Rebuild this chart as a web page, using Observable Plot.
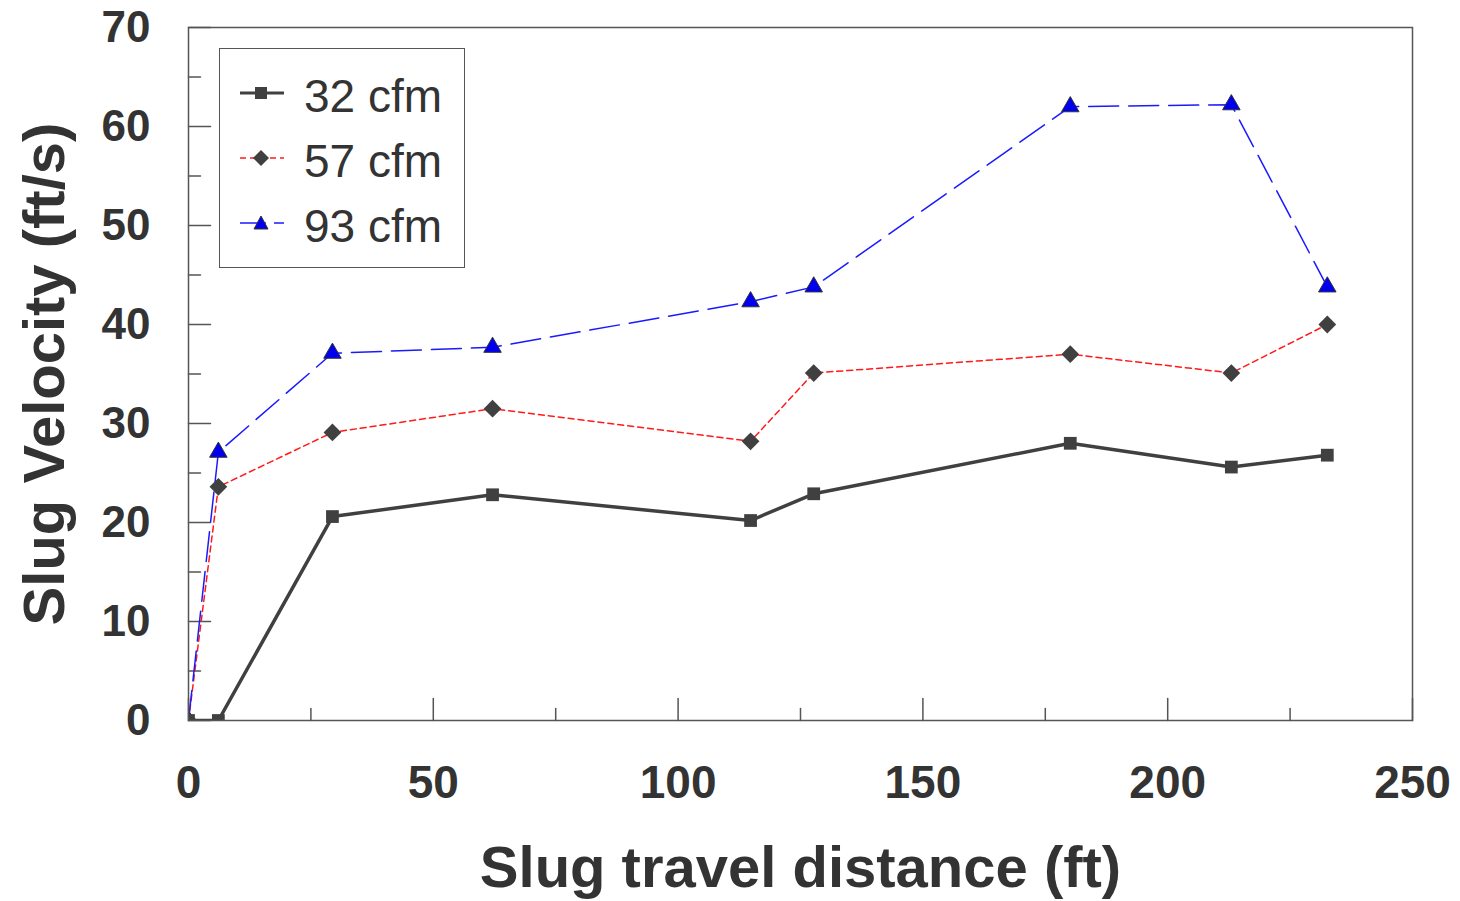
<!DOCTYPE html>
<html>
<head>
<meta charset="utf-8">
<script src="https://cdn.jsdelivr.net/npm/d3@7"></script>
<script src="https://cdn.jsdelivr.net/npm/@observablehq/plot@0.6"></script>
<style>
  body { margin: 0; background: #fff; }
  #wrap { position: relative; width: 1460px; height: 901px; font-family: "Liberation Sans", Arial, sans-serif; }
  #legend { position: absolute; left: 219px; top: 48px; width: 244px; height: 218px; border: 1.5px solid #555; background: #fff; }
  .row { position: absolute; left: 20px; height: 50px; display: flex; align-items: center; }
  .row span { font-size: 46px; color: #333; margin-left: 20px; position: relative; top: 3px; }
</style>
</head>
<body>
<div id="wrap"></div>
<script>
const distance = [0, 6.1, 29.4, 62.1, 114.8, 127.7, 180.1, 213.0, 232.6];
const v32 = [0, 0, 20.6, 22.8, 20.2, 22.9, 28.0, 25.6, 26.8];
const v57 = [0, 23.6, 29.1, 31.5, 28.2, 35.1, 37.0, 35.1, 40.0];
const v93 = [0, 27.1, 37.1, 37.7, 42.3, 43.8, 62.0, 62.2, 43.8];
const seriesNames = ["32 cfm", "57 cfm", "93 cfm"];
const yMajor = [0, 10, 20, 30, 40, 50, 60, 70];
const yMinor = [5, 15, 25, 35, 45, 55, 65];
const xMajor = [0, 50, 100, 150, 200, 250];
const xMinor = [25, 75, 125, 175, 225];

const rows = (vals) => distance.map((x, i) => ({x, y: vals[i]}));
const r32 = rows(v32), r57 = rows(v57), r93 = rows(v93);

const tickShape = { draw(ctx, l) { ctx.moveTo(0, 0); ctx.lineTo(0, -l); } };
const textColor = "#333";
const font = "Liberation Sans, Arial, sans-serif";

const chart = Plot.plot({
  width: 1460,
  height: 901,
  marginLeft: 188,
  marginRight: 48,
  marginTop: 27,
  marginBottom: 181,
  style: { fontFamily: font, background: "white" },
  x: { domain: [0, 250] },
  y: { domain: [0, 70] },
  marks: [
    Plot.axisY(yMajor, { tickSize: 0, tickPadding: 38, fontSize: 44, fontWeight: "bold", fill: textColor, label: null }),
    Plot.axisX(xMajor, { tickSize: 0, tickPadding: 45, fontSize: 46, fontWeight: "bold", fill: textColor, label: null }),
    Plot.vector(yMajor, { y: d => d, frameAnchor: "left", rotate: 90, length: 22, anchor: "start", shape: tickShape, stroke: "#555", strokeWidth: 1.5 }),
    Plot.vector(yMinor, { y: d => d, frameAnchor: "left", rotate: 90, length: 12, anchor: "start", shape: tickShape, stroke: "#555", strokeWidth: 1.5 }),
    Plot.vector(xMajor, { x: d => d, frameAnchor: "bottom", rotate: 0, length: 22, anchor: "start", shape: tickShape, stroke: "#555", strokeWidth: 1.5 }),
    Plot.vector(xMinor, { x: d => d, frameAnchor: "bottom", rotate: 0, length: 12, anchor: "start", shape: tickShape, stroke: "#555", strokeWidth: 1.5 }),
    Plot.line(r57, { x: "x", y: "y", stroke: "#ff1a1a", strokeWidth: 1.5, strokeDasharray: "6,4", clip: "frame" }),
    Plot.line(r93, { x: "x", y: "y", stroke: "#1a1aff", strokeWidth: 1.5, strokeDasharray: "30,10", clip: "frame" }),
    Plot.line(r32, { x: "x", y: "y", stroke: "#404040", strokeWidth: 3.5, clip: "frame" }),
    Plot.dot(r57, { x: "x", y: "y", symbol: "diamond2", fill: "#404040", r: 8, clip: "frame" }),
    Plot.dot(r93, { x: "x", y: "y", symbol: "triangle", fill: "#0000ee", stroke: "#333", strokeWidth: 1, r: 6.5, clip: "frame" }),
    Plot.dot(r32, { x: "x", y: "y", symbol: "square", fill: "#404040", r: 7.2, clip: "frame" }),
    Plot.frame({ stroke: "#555", strokeWidth: 1.5 }),
    Plot.text(["Slug travel distance (ft)"], { frameAnchor: "bottom", textAnchor: "middle", lineAnchor: "middle", dy: 148, fontSize: 58, fontWeight: "bold", fill: textColor }),
    Plot.text(["Slug Velocity (ft/s)"], { frameAnchor: "left", textAnchor: "middle", lineAnchor: "middle", dx: -143, rotate: -90, fontSize: 58, fontWeight: "bold", fill: textColor })
  ]
});

const wrap = document.getElementById("wrap");
wrap.appendChild(chart);

// Legend
const legend = document.createElement("div");
legend.id = "legend";
const legendStyles = [
  { stroke: "#404040", width: 3, dash: null, sym: "square", fill: "#404040" },
  { stroke: "#ff1a1a", width: 1.5, dash: "6,4", sym: "diamond", fill: "#404040" },
  { stroke: "#1a1aff", width: 1.5, dash: "26,8", sym: "triangle", fill: "#0000ee" }
];
seriesNames.forEach((name, i) => {
  const s = legendStyles[i];
  const row = document.createElement("div");
  row.className = "row";
  row.style.top = (19 + i * 65) + "px";
  let sym = "";
  if (s.sym === "square") sym = `<rect x="15" y="6" width="12" height="12" fill="${s.fill}"/>`;
  if (s.sym === "diamond") sym = `<path d="M21,4 L29,12 L21,20 L13,12 Z" fill="${s.fill}"/>`;
  if (s.sym === "triangle") sym = `<path d="M21,5 L28,18 L14,18 Z" fill="${s.fill}" stroke="#333" stroke-width="1"/>`;
  row.innerHTML = `<svg width="44" height="24"><line x1="0" x2="44" y1="12" y2="12" stroke="${s.stroke}" stroke-width="${s.width}" ${s.dash ? `stroke-dasharray="${s.dash}"` : ""}/>${sym}</svg><span>${name}</span>`;
  legend.appendChild(row);
});
wrap.appendChild(legend);
</script>
</body>
</html>
